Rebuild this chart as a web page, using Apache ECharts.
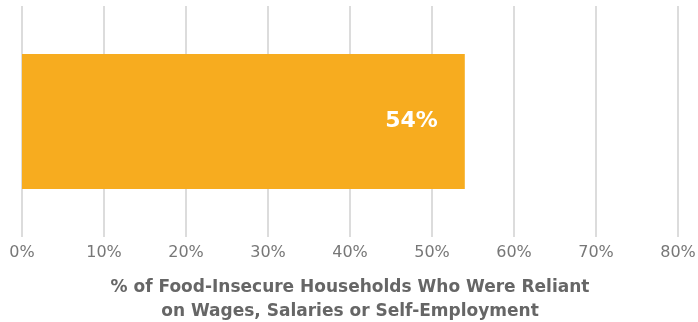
<!DOCTYPE html>
<html>
<head>
    <meta charset="utf-8">
    <title>ECharts</title>
    <script src="https://cdn.jsdelivr.net/npm/echarts@6/dist/echarts.min.js"></script>
    <style>body{margin:0;background:#fff;}</style>
</head>
<body>
    <div id="main" style="width:698px;height:322px;"></div>
    <script type="text/javascript">
var categories = ['Reliant on wages'];
var values = [54];
var tickMax = 80;

var myChart = echarts.init(document.getElementById('main'));

option = {
    animation: false,
    grid: {left: 22, right: 20, top: 6, bottom: 85, containLabel: false, outerBoundsMode: 'none'},
    xAxis: {
        type: 'value',
        min: 0,
        max: tickMax,
        interval: 10,
        axisLine: {show: false},
        axisTick: {show: false},
        splitLine: {lineStyle: {color: '#d0d0d0', width: 1.5}},
        axisLabel: {
            formatter: '{value}%',
            color: '#777',
            fontSize: 16,
            fontFamily: 'DejaVu Sans',
            margin: 8
        },
        name: '% of Food-Insecure Households Who Were Reliant\non Wages, Salaries or Self-Employment',
        nameLocation: 'middle',
        nameGap: 39,
        nameTextStyle: {
            color: '#666',
            fontSize: 17,
            fontWeight: 'bold',
            fontFamily: 'DejaVu Sans',
            lineHeight: 24
        }
    },
    yAxis: {
        type: 'category',
        data: categories,
        axisLine: {show: false},
        axisTick: {show: false},
        axisLabel: {show: false}
    },
    series: [{
        type: 'bar',
        data: values,
        barWidth: 135,
        itemStyle: {color: '#F7AC1F'},
        label: {
            show: true,
            position: 'insideRight',
            distance: 27,
            formatter: '{c}%',
            color: '#fff',
            fontSize: 22,
            fontWeight: 'bold',
            fontFamily: 'DejaVu Sans'
        }
    }]
};

myChart.setOption(option);
    </script>
</body>
</html>
